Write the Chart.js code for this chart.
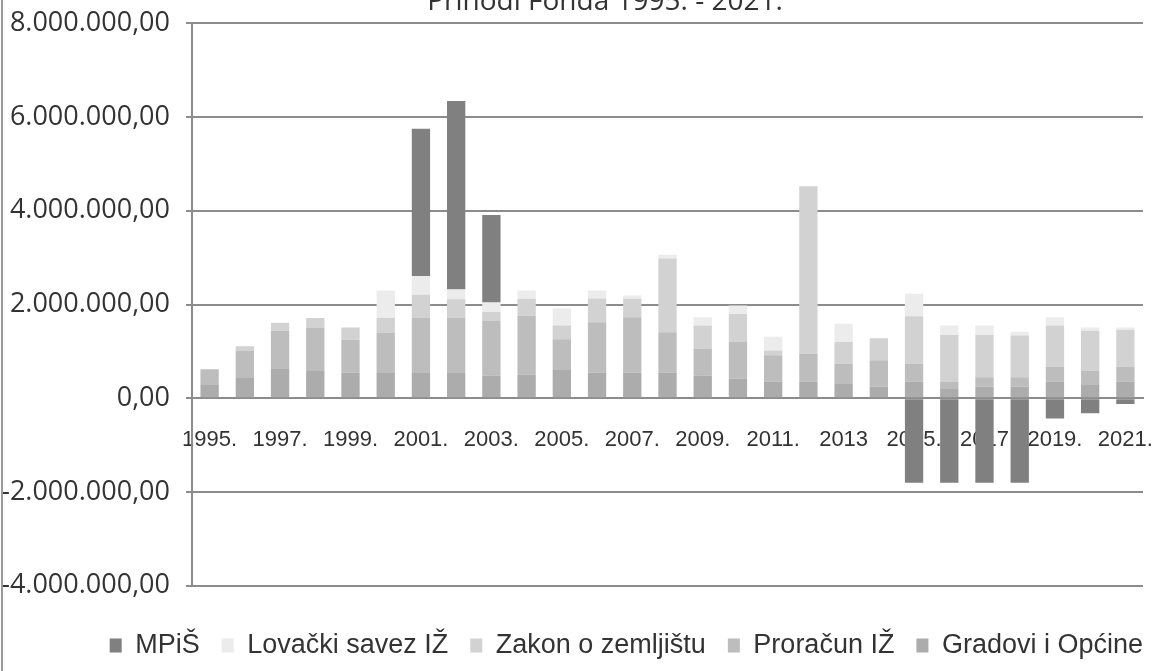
<!DOCTYPE html>
<html>
<head>
<meta charset="utf-8">
<script src="https://cdn.jsdelivr.net/npm/chart.js@4/dist/chart.umd.min.js"></script>
<style>
  body { margin: 0; background: #fff; }
  .wrap { position: relative; width: 1165px; height: 671px; overflow: hidden; }
  .wrap canvas { position: absolute; left: 0; top: -9px; }
  .frame { position: absolute; left: 1px; top: 0; width: 2px; height: 671px; background: #9a9a9a; }
</style>
</head>
<body>
<div class="wrap">
  <canvas id="prihodi" width="1165" height="680"></canvas>
  <div class="frame"></div>
</div>
<script>
const titleText = 'Prihodi Fonda 1995. - 2021.';

const years = ['1995', '1996', '1997', '1998', '1999', '2000', '2001', '2002', '2003', '2004',
    '2005', '2006', '2007', '2008', '2009', '2010', '2011', '2012', '2013', '2014',
    '2015', '2016', '2017', '2018', '2019', '2020', '2021'];

const tickLabels = ['1995.', '', '1997.', '', '1999.', '', '2001.', '', '2003.', '',
    '2005.', '', '2007.', '', '2009.', '', '2011.', '', '2013', '',
    '2015.', '', '2017', '', '2019.', '', '2021.'];

const gradovi = [300000, 450000, 640000, 600000, 550000, 540000, 540000, 540000, 480000, 500000,
    620000, 550000, 550000, 550000, 480000, 420000, 350000, 350000, 320000, 250000,
    350000, 200000, 250000, 250000, 350000, 300000, 350000];

const proracun = [320000, 560000, 800000, 900000, 700000, 850000, 1170000, 1170000, 1180000, 1260000,
    640000, 1070000, 1180000, 860000, 570000, 780000, 570000, 600000, 420000, 560000,
    390000, 160000, 200000, 200000, 320000, 280000, 320000];

const zakon = [0, 100000, 170000, 210000, 260000, 320000, 500000, 400000, 180000, 360000,
    290000, 510000, 390000, 1570000, 500000, 600000, 100000, 3570000, 460000, 470000,
    1010000, 990000, 900000, 890000, 880000, 860000, 790000];

const lovacki = [0, 0, 0, 0, 0, 590000, 400000, 210000, 200000, 180000,
    370000, 170000, 70000, 80000, 180000, 180000, 290000, 0, 390000, 0,
    480000, 200000, 200000, 80000, 180000, 70000, 50000];

const mpis = [0, 0, 0, 0, 0, 0, 3140000, 4020000, 1870000, 0,
    0, 0, 0, 0, 0, 0, 0, 0, 0, 0,
    -1800000, -1800000, -1800000, -1800000, -430000, -320000, -120000];

function formatHr(v) {
    let s = Math.abs(Math.round(v)).toString();
    s = s.replace(/\B(?=(\d{3})+(?!\d))/g, '.');
    return (v < 0 ? '-' : '') + s + ',00';
}

const narrow = "'Liberation Sans', Arial, sans-serif";

// title sits mostly above the visible frame, only its lower part shows
const cutTitle = {
    id: 'cutTitle',
    afterDraw(chart) {
        const ctx = chart.ctx;
        ctx.save();
        ctx.font = "28px 'Open Sans', sans-serif";
        ctx.fillStyle = '#333';
        ctx.textAlign = 'center';
        ctx.textBaseline = 'alphabetic';
        ctx.fillText(titleText, 605, 19);
        ctx.restore();
    }
};

function initChart() {
    const ctx = document.getElementById('prihodi').getContext('2d');
    const chart = new Chart(ctx, {
        type: 'bar',
        data: {
            labels: years,
            datasets: [
                { label: 'Gradovi i Općine', data: gradovi, backgroundColor: '#acacac' },
                { label: 'Proračun IŽ', data: proracun, backgroundColor: '#bdbdbd' },
                { label: 'Zakon o zemljištu', data: zakon, backgroundColor: '#d2d2d2' },
                { label: 'Lovački savez IŽ', data: lovacki, backgroundColor: '#ececec' },
                { label: 'MPiŠ', data: mpis, backgroundColor: '#808080' }
            ]
        },
        options: {
            responsive: false,
            animation: false,
            datasets: {
                bar: { barPercentage: 0.52, categoryPercentage: 1, borderWidth: 0 }
            },
            layout: {
                padding: { left: 0, right: 0, top: 0, bottom: 2 }
            },
            scales: {
                x: {
                    stacked: true,
                    position: { y: 0 },
                    z: 1,
                    afterFit: (scale) => { scale.paddingLeft = 0; scale.paddingRight = 0; },
                    grid: { display: false, drawTicks: false },
                    border: { display: true, color: '#8c8c8c', width: 2 },
                    ticks: {
                        autoSkip: false,
                        maxRotation: 0,
                        padding: 28,
                        color: '#333',
                        font: { family: narrow, size: 22 },
                        callback: (val, i) => tickLabels[i]
                    }
                },
                y: {
                    stacked: true,
                    min: -4000000,
                    max: 8000000,
                    afterFit: (scale) => { scale.width = 192; },
                    grid: { color: '#8c8c8c', lineWidth: 2, tickLength: 6 },
                    border: { color: '#8c8c8c', width: 2 },
                    ticks: {
                        stepSize: 2000000,
                        padding: 16,
                        color: '#333',
                        font: { family: "'Open Sans', sans-serif", size: 27 },
                        callback: (v) => formatHr(v)
                    }
                },
                yRight: {
                    position: 'right',
                    afterFit: (scale) => { scale.width = 22; },
                    grid: { display: false },
                    border: { display: false },
                    ticks: { display: false }
                }
            },
            plugins: {
                legend: {
                    position: 'bottom',
                    align: 'end',
                    reverse: true,
                    title: { display: true, text: ' ', font: { size: 1 }, padding: { top: 23, bottom: 0 } },
                    labels: {
                        boxWidth: 12,
                        boxHeight: 14,
                        padding: 22,
                        color: '#333',
                        font: { family: narrow, size: 27 }
                    }
                },
                tooltip: { enabled: false }
            }
        },
        plugins: [cutTitle]
    });
}

initChart();
</script>
</body>
</html>
